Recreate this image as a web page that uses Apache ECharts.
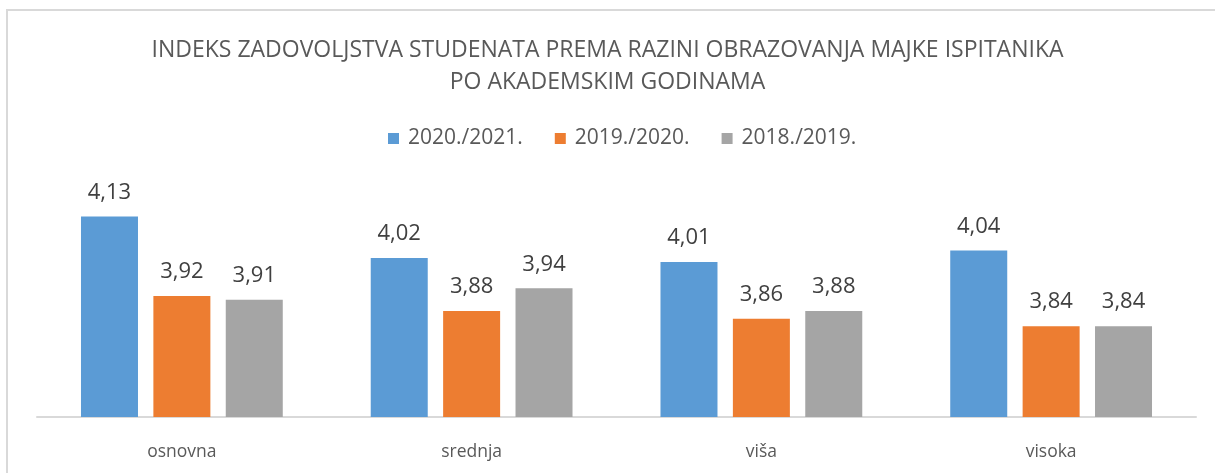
<!DOCTYPE html>
<html>
<head>
<meta charset="utf-8">
<script src="https://cdn.jsdelivr.net/npm/echarts@6/dist/echarts.min.js"></script>
<style>
html,body{margin:0;padding:0;background:#fff;}
#chart{position:absolute;left:0;top:0;width:1215px;height:473px;}
#frame{position:absolute;left:6px;top:9px;width:1215px;height:470px;border-left:2px solid #d9d9d9;border-top:2px solid #d9d9d9;pointer-events:none;}
</style>
</head>
<body>
<div id="chart"></div>
<div id="frame"></div>
<script>
const categories = ['osnovna', 'srednja', 'viša', 'visoka'];
const seriesNames = ['2020./2021.', '2019./2020.', '2018./2019.'];
const s2020_2021 = [4.13, 4.02, 4.01, 4.04];
const s2019_2020 = [3.92, 3.88, 3.86, 3.84];
const s2018_2019 = [3.91, 3.94, 3.88, 3.84];
const colors = ['#5b9bd5', '#ed7d31', '#a5a5a5'];

const FONT = '"Open Sans", sans-serif';
const chart = echarts.init(document.getElementById('chart'), null, {renderer: 'canvas'});
const mk = (name, data, color) => ({
  name, type: 'bar', data, barWidth: 57, barGap: '27%',
  itemStyle: {color},
  label: {
    show: true, position: 'top', distance: 13,
    color: '#404040', fontSize: 22, fontFamily: FONT,
    formatter: p => p.value.toFixed(2).replace('.', ',')
  }
});
chart.setOption({
  animation: false,
  title: {
    text: 'INDEKS ZADOVOLJSTVA STUDENATA PREMA RAZINI OBRAZOVANJA MAJKE ISPITANIKA\nPO AKADEMSKIM GODINAMA',
    left: 'center', top: 29,
    textStyle: {color: '#595959', fontSize: 23, fontWeight: 'normal', fontFamily: FONT, lineHeight: 32}
  },
  legend: {
    top: 123, left: 383, itemWidth: 11, itemHeight: 11, itemGap: 32,
    icon: 'rect',
    textStyle: {color: '#595959', fontSize: 21, fontFamily: FONT, padding: [0, 0, 0, 4]}
  },
  grid: {left: 37, right: 19, top: 190, bottom: 56, containLabel: false},
  xAxis: {
    type: 'category', data: categories,
    axisLine: {lineStyle: {color: '#d9d9d9', width: 2}},
    axisTick: {show: false},
    axisLabel: {color: '#595959', fontSize: 17.5, fontFamily: FONT, margin: 26}
  },
  yAxis: {
    type: 'value', min: 3.6, max: 4.2, interval: 0.1, show: false,
    splitLine: {show: false}
  },
  series: [
    mk(seriesNames[0], s2020_2021, colors[0]),
    mk(seriesNames[1], s2019_2020, colors[1]),
    mk(seriesNames[2], s2018_2019, colors[2])
  ]
});
</script>
</body>
</html>
